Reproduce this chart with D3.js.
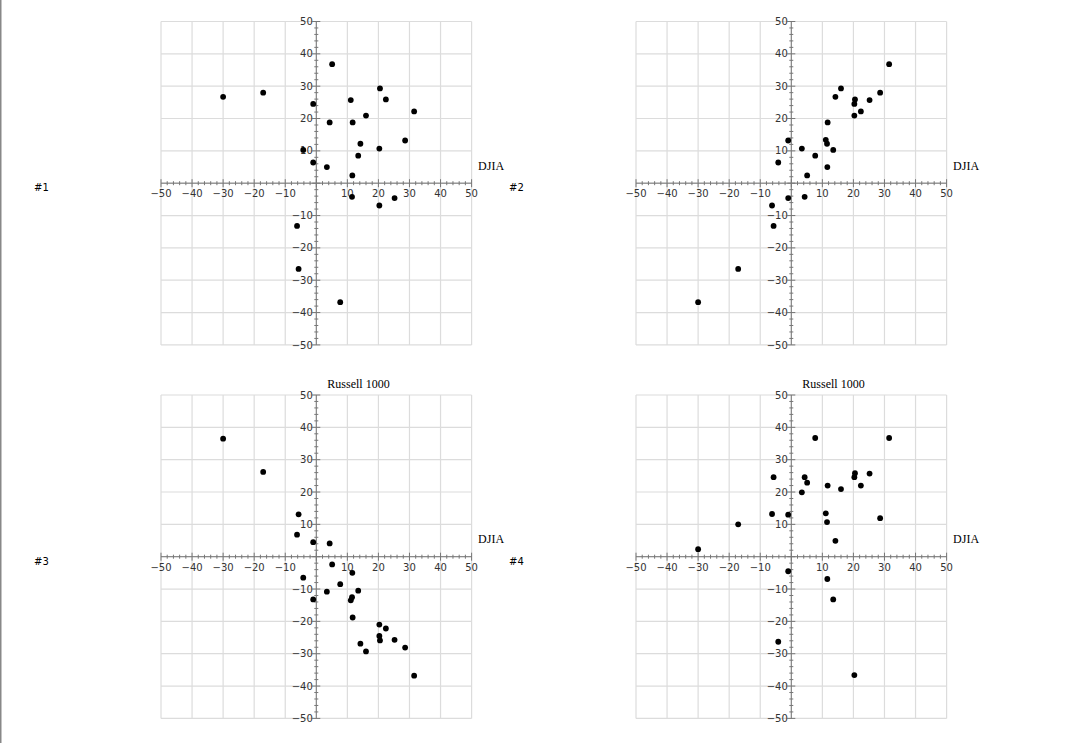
<!DOCTYPE html>
<html>
<head>
<meta charset="utf-8">
<script src="https://cdn.jsdelivr.net/npm/d3@7/dist/d3.min.js"></script>
<style>
  html, body { margin: 0; padding: 0; background: #fff; }
  svg { display: block; }
</style>
</head>
<body>
<svg id="chart" width="1092" height="743"></svg>
<script>
// ---- data ----
const panelLabels = ["#1", "#2", "#3", "#4"];
const xAxisTitle = "DJIA";
const yAxisTitle = "Russell 1000";
const tickValues = [-50, -40, -30, -20, -10, 10, 20, 30, 40, 50];

const p1x = [-30, -17.1, 5.1, -1.0, 11.1, 20.5, 22.4, 31.5, 16.0, 4.3, 11.7, 28.6, 14.2, 13.5, 20.3, -4.2, -1.0, 3.4, 11.6, 11.5, 20.3, 25.2, -6.2, -5.7, 7.7];
const p1y = [26.7, 28.0, 36.8, 24.5, 25.7, 29.3, 25.9, 22.2, 20.9, 18.8, 18.8, 13.2, 12.2, 8.5, 10.7, 10.3, 6.4, 5.0, 2.4, -4.2, -6.9, -4.6, -13.2, -26.5, -36.8];

const p2x = [31.5, 28.6, 16.0, 14.2, 20.5, 20.3, 25.2, 22.4, 20.3, 11.7, -1.0, 11.1, 11.5, 3.4, 13.5, 7.7, -4.2, 11.6, 5.1, 4.3, -1.0, -6.2, -5.7, -17.1, -30];
const p2y = [36.8, 28.0, 29.3, 26.7, 25.9, 24.5, 25.7, 22.2, 20.9, 18.8, 13.2, 13.4, 12.2, 10.7, 10.3, 8.5, 6.4, 5.0, 2.4, -4.2, -4.6, -6.9, -13.2, -26.5, -36.8];

const p3x = [-30, -17.1, -5.7, -6.2, -1.0, 4.3, 5.1, 11.6, -4.2, 7.7, 3.4, 13.5, -1.0, 11.5, 11.1, 11.7, 20.3, 22.4, 20.3, 20.5, 25.2, 14.2, 16.0, 28.6, 31.5];
const p3y = [36.5, 26.2, 13.1, 6.8, 4.5, 4.1, -2.4, -5.0, -6.5, -8.5, -10.8, -10.5, -13.2, -12.5, -13.5, -18.8, -21.0, -22.2, -24.5, -25.9, -25.7, -26.9, -29.3, -28.1, -36.8];

const p4x = [-30, -17.1, -5.7, -6.2, -1.0, 3.4, 4.3, 5.1, 7.7, 11.7, 11.1, 11.5, 14.2, 16.0, 20.5, 20.3, 22.4, 25.2, 28.6, 31.5, -1.0, 11.6, 13.5, -4.2, 20.3];
const p4y = [2.3, 10.0, 24.6, 13.2, 13.0, 19.9, 24.6, 22.9, 36.7, 22.0, 13.4, 10.7, 4.9, 20.9, 25.8, 24.6, 22.0, 25.7, 11.9, 36.7, -4.5, -6.9, -13.2, -26.3, -36.6];

const panelXs = [p1x, p2x, p3x, p4x];
const panelYs = [p1y, p2y, p3y, p4y];

// ---- layout ----
const svg = d3.select("#chart");
const plotW = 310.6, plotH = 323.4;
const origins = [[161, 21.5], [636, 21.5], [161, 395], [636, 395]];
const showYTitle = [false, false, true, true];

// page left border
svg.append("rect").attr("x", 0).attr("y", 0).attr("width", 1.5).attr("height", 743).attr("fill", "#888");

const minorVals = d3.range(-50, 50.001, 2);
const gridVals = d3.range(-50, 50.001, 10);

panelXs.forEach((xs, i) => {
  const [ox, oy] = origins[i];
  const x = d3.scaleLinear().domain([-50, 50]).range([ox, ox + plotW]);
  const y = d3.scaleLinear().domain([-50, 50]).range([oy + plotH, oy]);
  const g = svg.append("g");
  const x0 = x(0), y0 = y(0);

  // grid
  g.selectAll(".gv").data(gridVals).join("line")
    .attr("x1", d => x(d)).attr("x2", d => x(d))
    .attr("y1", y(-50)).attr("y2", y(50))
    .attr("stroke", "#dcdcdc").attr("stroke-width", 1.2);
  g.selectAll(".gh").data(gridVals).join("line")
    .attr("y1", d => y(d)).attr("y2", d => y(d))
    .attr("x1", x(-50)).attr("x2", x(50))
    .attr("stroke", "#dcdcdc").attr("stroke-width", 1.2);

  const axisColor = "#777";
  g.append("line").attr("x1", x(-50)).attr("x2", x(50)).attr("y1", y0).attr("y2", y0)
    .attr("stroke", axisColor).attr("stroke-width", 1);
  g.append("line").attr("x1", x0).attr("x2", x0).attr("y1", y(-50)).attr("y2", y(50))
    .attr("stroke", axisColor).attr("stroke-width", 1);

  // ticks
  g.selectAll(".xt").data(minorVals).join("line")
    .attr("x1", d => x(d)).attr("x2", d => x(d))
    .attr("y1", d => y0 - (d % 10 === 0 ? 4 : 2)).attr("y2", d => y0 + (d % 10 === 0 ? 4 : 2))
    .attr("stroke", axisColor).attr("stroke-width", 1);
  g.selectAll(".yt").data(minorVals).join("line")
    .attr("y1", d => y(d)).attr("y2", d => y(d))
    .attr("x1", d => x0 - (d % 10 === 0 ? 4 : 2)).attr("x2", d => x0 + (d % 10 === 0 ? 4 : 2))
    .attr("stroke", axisColor).attr("stroke-width", 1);

  const fmt = d => (d < 0 ? "\u2212" + Math.abs(d) : String(d));
  g.selectAll(".xl").data(tickValues).join("text")
    .attr("x", d => x(d)).attr("y", y0 + 14)
    .attr("text-anchor", "middle")
    .attr("font-family", "DejaVu Sans, sans-serif").attr("font-size", 10)
    .attr("fill", "#333")
    .text(fmt);
  g.selectAll(".yl").data(tickValues).join("text")
    .attr("x", x0 - 3.5).attr("y", d => y(d) + 3.6)
    .attr("text-anchor", "end")
    .attr("font-family", "DejaVu Sans, sans-serif").attr("font-size", 10)
    .attr("fill", "#333")
    .text(fmt);

  // axis titles
  g.append("text").attr("x", x(50) + 6.5).attr("y", y0 - 13.5)
    .attr("font-family", "Liberation Serif, Times New Roman, serif").attr("font-size", 12)
    .attr("fill", "#000").text(xAxisTitle);
  if (showYTitle[i]) {
    g.append("text").attr("x", x0 + 11).attr("y", y(50) - 7.5)
      .attr("font-family", "Liberation Serif, Times New Roman, serif").attr("font-size", 12)
      .attr("fill", "#000").text(yAxisTitle);
  }

  // panel label
  g.append("text").attr("x", ox - 127).attr("y", y0 + 8)
    .attr("font-family", "DejaVu Sans, sans-serif").attr("font-size", 10)
    .attr("fill", "#000").text(panelLabels[i]);

  // points
  g.selectAll("circle").data(xs.map((v, k) => [v, panelYs[i][k]])).join("circle")
    .attr("cx", d => x(d[0])).attr("cy", d => y(d[1]))
    .attr("r", 2.9).attr("fill", "#000");
});
</script>
</body>
</html>
